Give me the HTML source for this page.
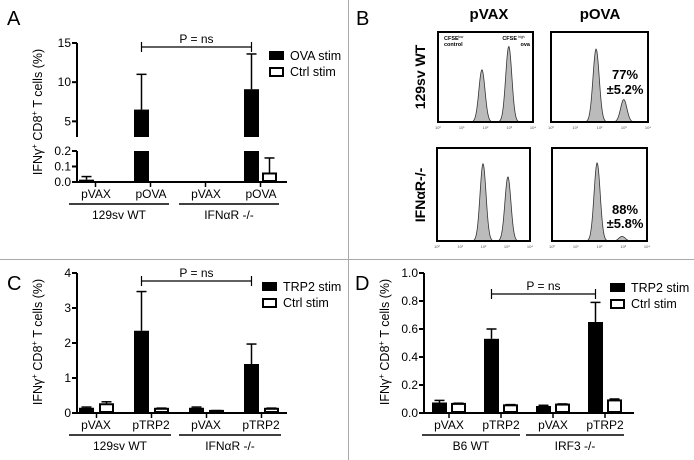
<!DOCTYPE html>
<html><head><meta charset="utf-8"><style>
html,body{margin:0;padding:0;background:#fff}
svg{display:block;font-family:"Liberation Sans",sans-serif}
</style></head><body>
<svg id="fig" width="694" height="460" viewBox="0 0 694 460" xmlns="http://www.w3.org/2000/svg">
<line x1="348.5" y1="0" x2="348.5" y2="460" stroke="#aaa" stroke-width="1"/>
<line x1="0" y1="259.5" x2="694" y2="259.5" stroke="#aaa" stroke-width="1"/>
<text x="7" y="25" font-size="20">A</text>
<text x="356" y="25" font-size="20">B</text>
<text x="7" y="290" font-size="20">C</text>
<text x="355" y="290" font-size="20">D</text>
<g id="charts"></g>
</svg>
<script>
// Panel A data
const catsA = ["pVAX","pOVA","pVAX","pOVA"];
const groupsA = ["129sv WT","IFNαR -/-"];
const ovaA = [0.015, 6.5, 0, 9.1];
const ovaErrA = [0.035, 11, 0, 13.6];
const ctrlA = [0, 0, 0, 0.055];
const ctrlErrA = [0, 0, 0, 0.155];
const ticksAUpper = [5, 10, 15];
const ticksALower = [0.0, 0.1, 0.2];
// Panel C data
const catsC = ["pVAX","pTRP2","pVAX","pTRP2"];
const groupsC = ["129sv WT","IFNαR -/-"];
const trpC = [0.15, 2.35, 0.15, 1.4];
const trpErrC = [0.17, 3.47, 0.17, 1.97];
const ctrlC = [0.25, 0.12, 0.06, 0.12];
const ctrlErrC = [0.32, 0.14, 0.07, 0.14];
const ticksC = [0, 1, 2, 3, 4];
// Panel D data
const catsD = ["pVAX","pTRP2","pVAX","pTRP2"];
const groupsD = ["B6 WT","IRF3 -/-"];
const trpD = [0.075, 0.53, 0.05, 0.65];
const trpErrD = [0.09, 0.6, 0.055, 0.79];
const ctrlD = [0.065, 0.055, 0.06, 0.09];
const ctrlErrD = [0.07, 0.06, 0.065, 0.1];
const ticksD = [0.0, 0.2, 0.4, 0.6, 0.8, 1.0];
const ticksDLabels = ["0.0","0.2","0.4","0.6","0.8","1.0"];
// Panel B histogram peaks: [center log10, relative height]
const peaksB1 = [[1.85, 0.58],[2.98, 0.84]];
const peaksB2 = [[1.86, 0.81],[3.0, 0.25]];
const peaksB3 = [[1.98, 0.83],[3.05, 0.69]];
const peaksB4 = [[1.9, 0.84],[2.95, 0.05]];

const NS="http://www.w3.org/2000/svg";
const root=document.getElementById('charts');
function el(tag,attrs,parent,txt){const e=document.createElementNS(NS,tag);for(const k in attrs)e.setAttribute(k,attrs[k]);if(txt!==undefined)e.textContent=txt;(parent||root).appendChild(e);return e;}

function barChart(o){
  const g=el('g',{});
  
  
  const X0=o.x0, X1=o.x1;
  const bx=i=>o.barX0+i*o.step;
  o.segments.forEach(s=>{
    const l=el('line',{x1:X0,y1:s.y0,x2:X0,y2:s.y1,stroke:'#000','stroke-width':2},g);
    
    
    s.ticks.forEach((t,k)=>{
      const y=s.scale(t);
      el('line',{x1:X0-5,y1:y,x2:X0,y2:y,stroke:'#000','stroke-width':2},g);
      const tx=el('text',{x:X0-6,y:y+4,'font-size':12,'text-anchor':'end'},g,s.labels[k]);
      
      
    });
  });
  const xa=el('line',{x1:X0-1,y1:o.base,x2:X1,y2:o.base,stroke:'#000','stroke-width':2},g);
  
  
  const valY=o.valY;
  o.cats.forEach((c,i)=>{
    const x=bx(i);
    const v=o.s1[i], e=o.e1[i];
    if(v>0){
      o.barRects(v).forEach(r=>{
        const b=el('rect',{x:x,y:r[0],width:o.bw,height:r[1]-r[0],fill:'#000'},g);
        
        
      });
    }
    if(e>v){
      const yt=valY(e), yv=valY(v);
      el('line',{x1:x+o.bw/2,y1:yt,x2:x+o.bw/2,y2:yv,stroke:'#000','stroke-width':1.5},g);
      el('line',{x1:x+o.bw/2-5,y1:yt,x2:x+o.bw/2+5,y2:yt,stroke:'#000','stroke-width':1.5},g);
    }
    const x2=x+o.wOff, v2=o.s2[i], e2=o.e2[i];
    if(e2>v2){
      const yt=valY(e2), yv=valY(v2);
      el('line',{x1:x2+o.bw/2,y1:yt,x2:x2+o.bw/2,y2:yv,stroke:'#000','stroke-width':1.5},g);
      el('line',{x1:x2+o.bw/2-5,y1:yt,x2:x2+o.bw/2+5,y2:yt,stroke:'#000','stroke-width':1.5},g);
    }
    if(v2>0){
      const yv=valY(v2);
      const b=el('rect',{x:x2+1,y:yv,width:o.bw-2,height:Math.max(o.base-yv-1,1),fill:'#fff',stroke:'#000','stroke-width':2},g);
      
      
    }
    const cx=x+o.bw+(o.wOff-o.bw)/2;
    el('line',{x1:cx,y1:o.base,x2:cx,y2:o.base+5,stroke:'#000','stroke-width':1.5},g);
    const tl=el('text',{x:x+o.bw+2,y:o.base+16,'font-size':12,'text-anchor':'middle'},g,c);
    
    
  });
  o.groups.forEach((gn,k)=>{
    const xa=bx(2*k)-10, xb=bx(2*k+1)+o.wOff+o.bw+2;
    el('line',{x1:xa,y1:o.base+22,x2:xb,y2:o.base+22,stroke:'#000','stroke-width':1.5},g);
    const t=el('text',{x:(xa+xb)/2,y:o.base+37,'font-size':12,'text-anchor':'middle'},g,gn);
    
    
  });
  const pa=bx(1)+o.bw/2, pb=bx(3)+o.bw/2;
  el('line',{x1:pa,y1:o.py,x2:pb,y2:o.py,stroke:'#000','stroke-width':1.2},g);
  el('line',{x1:pa,y1:o.py-5,x2:pa,y2:o.py+5,stroke:'#000','stroke-width':1.2},g);
  el('line',{x1:pb,y1:o.py-5,x2:pb,y2:o.py+5,stroke:'#000','stroke-width':1.2},g);
  const pt=el('text',{x:(pa+pb)/2,y:o.py-4,'font-size':12,'text-anchor':'middle'},g,'P = ns');
  
  
  const lg=el('g',{},g);
  
  
  el('rect',{x:o.lx,y:o.ly,width:15,height:9,fill:'#000'},lg);
  el('text',{x:o.lx+21,y:o.ly+9,'font-size':12.5},lg,o.s1label);
  el('rect',{x:o.lx+1,y:o.ly+17,width:13,height:8,fill:'#fff',stroke:'#000','stroke-width':2},lg);
  el('text',{x:o.lx+21,y:o.ly+25,'font-size':12.5},lg,'Ctrl stim');
  const yt=el('text',{transform:`translate(${o.ytx},${o.yty}) rotate(-90)`,'font-size':12.5,'text-anchor':'middle'},g);
  
  
  el('tspan',{},yt,'IFNγ');
  el('tspan',{'font-size':8,dy:-5},yt,'+');
  el('tspan',{dy:5},yt,' CD8');
  el('tspan',{'font-size':8,dy:-5},yt,'+');
  el('tspan',{dy:5},yt,' T cells (%)');
}

const upA=v=>137-(v-3)/12*94, loA=v=>182-v/0.2*31;
const valYA=v=>v<=0.2?loA(v):upA(v);
barChart({name:'panel-a-chart',x0:77,x1:287,base:182,cats:catsA,groups:groupsA,
 s1:ovaA,e1:ovaErrA,s2:ctrlA,e2:ctrlErrA,s1name:'ova',s1label:'OVA stim',
 barX0:79,step:55,bw:15,wOff:18,valY:valYA,
 barRects:v=>v<=0.2?[[loA(v),182]]:[[upA(v),137],[151,182]],
 segments:[{y0:43,y1:137,ticks:ticksAUpper,labels:ticksAUpper.map(String),scale:upA},
           {y0:151,y1:182,ticks:ticksALower,labels:ticksALower.map(t=>t.toFixed(1)),scale:loA}],
 py:47,lx:269,ly:51,ytx:42,yty:112});
const yC=v=>413-v/4*140;
barChart({name:'panel-c-chart',x0:77,x1:287,base:413,cats:catsC,groups:groupsC,
 s1:trpC,e1:trpErrC,s2:ctrlC,e2:ctrlErrC,s1name:'trp2',s1label:'TRP2 stim',
 barX0:79,step:55,bw:15,wOff:20,valY:yC,barRects:v=>[[yC(v),413]],
 segments:[{y0:273,y1:413,ticks:ticksC,labels:ticksC.map(String),scale:yC}],
 py:281,lx:262,ly:282,ytx:42,yty:342});
const yD=v=>413-v*140;
barChart({name:'panel-d-chart',x0:424,x1:634,base:413,cats:catsD,groups:groupsD,
 s1:trpD,e1:trpErrD,s2:ctrlD,e2:ctrlErrD,s1name:'trp2',s1label:'TRP2 stim',
 barX0:432,step:52,bw:15,wOff:19,valY:yD,barRects:v=>[[yD(v),413]],
 segments:[{y0:273,y1:413,ticks:ticksD,labels:ticksDLabels,scale:yD}],
 py:294,lx:610,ly:283,ytx:389,yty:342});

function hist(bx,by,w,h,peaks,name){
  const g=el('g',{});
  
  
  const px=d=>bx+w*(d/4);
  let pts=[];
  for(let x=0;x<=w;x+=0.5){
    const d=x/w*4;let y=0;
    peaks.forEach(p=>{y+=p[1]*Math.exp(-Math.pow((d-p[0])/0.13,2)/2);});
    pts.push([bx+x,by+h-y*h]);
  }
  let dstr='M'+pts.map(p=>p[0].toFixed(1)+','+p[1].toFixed(1)).join(' L')+' Z';
  const pa=el('path',{d:dstr,fill:'#bbb',stroke:'#333','stroke-width':0.8},g);
  
  
  el('rect',{x:bx,y:by,width:w,height:h,fill:'none',stroke:'#000','stroke-width':2},g);
  for(let k=0;k<=4;k++){
    el('text',{x:px(k),y:by+h+7,'font-size':4,'text-anchor':'middle',fill:'#555'},g,'10'+['⁰','¹','²','³','⁴'][k]);
  }
  return g;
}
hist(438,32,95,90,peaksB1,'histogram-pvax-wt');
hist(551,32,97,90,peaksB2,'histogram-pova-wt');
hist(437,148,93,93,peaksB3,'histogram-pvax-ifnar');
hist(552,148,95,93,peaksB4,'histogram-pova-ifnar');
const bt=[['pVAX',489,19,15,'column-title-pvax'],['pOVA',600,19,15,'column-title-pova']];
bt.forEach(b=>{const t=el('text',{x:b[1],y:b[2],'font-size':b[3],'font-weight':'bold','text-anchor':'middle'},root,b[0]);});
[['129sv WT',77,'row-label-wt'],['IFNαR-/-',195,'row-label-ifnar']].forEach(r=>{
  const t=el('text',{transform:`translate(425,${r[1]}) rotate(-90)`,'font-size':14,'font-weight':'bold','text-anchor':'middle'},root,r[0]);
  });
[['77%',625,79],['±5.2%',625,94],['88%',625,214],['±5.8%',625,228]].forEach(r=>{
  const t=el('text',{x:r[1],y:r[2],'font-size':13,'font-weight':'bold','text-anchor':'middle'},root,r[0]);
  });
[['CFSE',444,40,'start'],['control',444,46,'start'],['CFSE',517,40,'end'],['ova',530,46,'end']].forEach(r=>{
  const t=el('text',{x:r[1],y:r[2],'font-size':5.5,'font-weight':'bold','text-anchor':r[3]},root,r[0]);
  });
el('text',{x:458,y:38,'font-size':3.5},root,'low');
el('text',{x:518,y:38,'font-size':3.5},root,'high');
</script>
</body></html>
